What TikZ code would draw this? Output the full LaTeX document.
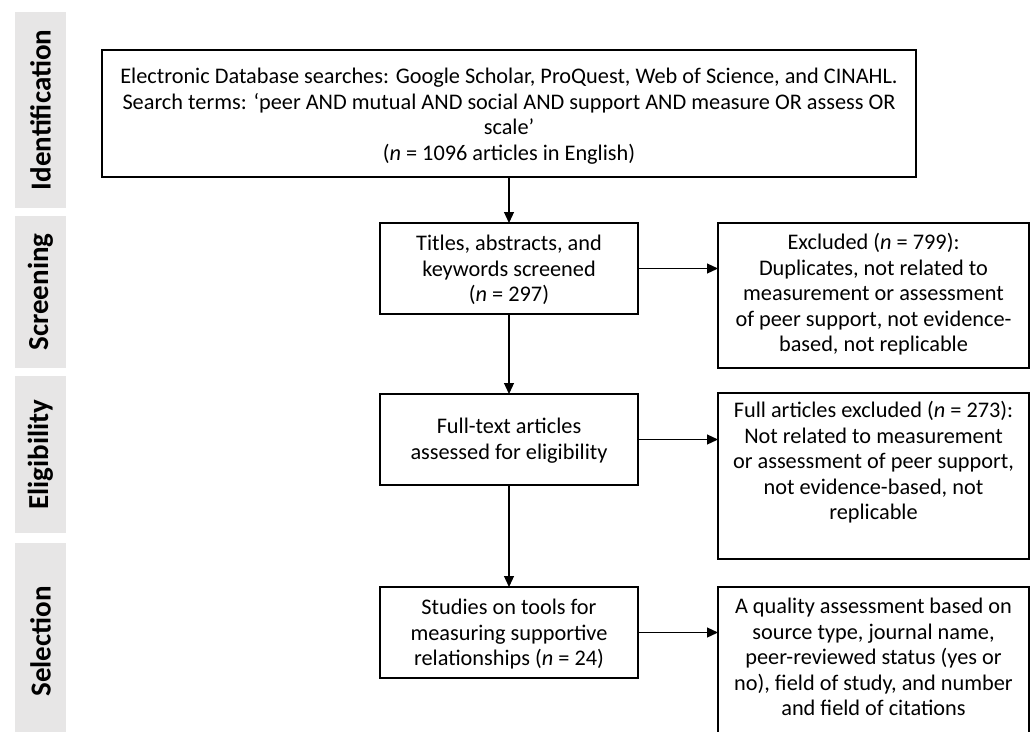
\documentclass[tikz,border=0pt]{standalone}
\usepackage{fontspec}
\setmainfont{Carlito}
\usetikzlibrary{arrows.meta}
\definecolor{phasegray}{RGB}{231,230,230}
\newcommand{\bxtext}[4]{\parbox[c][#2][t]{#1}{\fontsize{22.3}{25.5}\selectfont\centering\vspace*{#3}\strut #4}}
\begin{document}
\begin{tikzpicture}[x=1pt,y=-1pt,
  box/.style={draw, line width=2pt, inner sep=0pt, outer sep=0pt, anchor=north west},
  phase/.style={fill=phasegray, inner sep=0pt, outer sep=0pt, rotate=90,
    font=\fontsize{29}{32}\selectfont\bfseries},
  arr/.style={line width=1.2pt, -{Triangle[length=11pt,width=10pt]}}]
\useasboundingbox (0,0) rectangle (1035,731);

% phase labels
\node[phase, minimum width=196pt, minimum height=51pt] (pid) at (40.5,110) {Identification};
\node[phase, minimum width=152pt, minimum height=51pt] (psc) at (40.5,292) {Screening};
\node[phase, minimum width=157pt, minimum height=51pt] (pel) at (40.5,454.5) {Eligibility};
\node[phase, minimum width=197pt, minimum height=51pt] (pse) at (40.5,641.5) {Selection};

% boxes
\node[box] (main) at (102,50) {\bxtext{814pt}{127pt}{16pt}{Electronic Database searches: Google Scholar, ProQuest, Web of Science, and CINAHL.\\
Search terms: ‘peer AND mutual AND social AND support AND measure OR assess OR\\
scale’\\
(\textit{n} = 1096 articles in English)}};

\node[box] (titles) at (380,223) {\bxtext{258pt}{91pt}{10pt}{Titles, abstracts, and\\ keywords screened\\ (\textit{n} = 297)}};

\node[box] (excl) at (718,223) {\bxtext{311pt}{145pt}{9pt}{Excluded (\textit{n} = 799):\\ Duplicates, not related to\\ measurement or assessment\\ of peer support, not evidence-\\ based, not replicable}};

\node[box] (full) at (380,394) {\bxtext{258pt}{91pt}{22pt}{Full-text articles\\ assessed for eligibility}};

\node[box] (fullex) at (718,393) {\bxtext{311pt}{166pt}{7pt}{Full articles excluded (\textit{n} = 273):\\ Not related to measurement\\ or assessment of peer support,\\ not evidence-based, not\\ replicable}};

\node[box] (studies) at (380,587) {\bxtext{258pt}{91pt}{10pt}{Studies on tools for\\ measuring supportive\\ relationships (\textit{n} = 24)}};

\node[box] (qual) at (718,587) {\bxtext{311pt}{160pt}{9pt}{A quality assessment based on\\ source type, journal name,\\ peer-reviewed status (yes or\\ no), field of study, and number\\ and field of citations}};

% connectors
\draw[arr] (main.south) -- (titles.north);
\draw[arr] (titles.east) -- (excl.west |- titles.east);
\draw[arr] (titles.south) -- (full.north);
\draw[arr] (full.east) -- (fullex.west |- full.east);
\draw[arr] (full.south) -- (studies.north);
\draw[arr] (studies.east) -- (qual.west |- studies.east);
\end{tikzpicture}
\end{document}
